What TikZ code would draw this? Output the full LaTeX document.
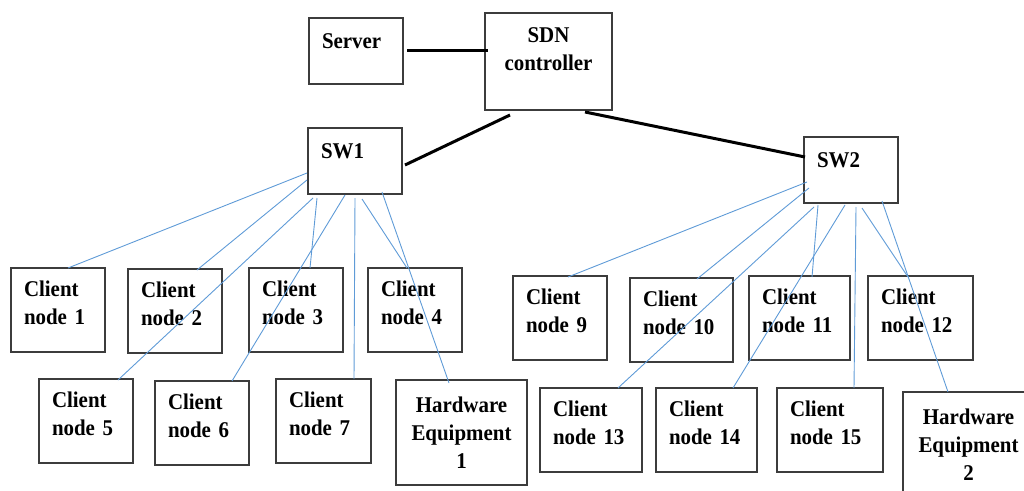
\documentclass[tikz,border=0pt]{standalone}
\usepackage{fontspec}
\setmainfont{Liberation Serif}[FakeStretch=0.93]
\usepackage{tikz}
\usetikzlibrary{calc}
\definecolor{ink}{RGB}{60,60,60}
\definecolor{wire}{RGB}{95,155,215}
\tikzset{
  hostbox/.style={draw=ink,line width=1.2pt,outer sep=0pt,inner xsep=13pt,
    font=\fontsize{22.5}{28}\selectfont\bfseries,align=left},
  client/.style={hostbox,anchor=north west,text width=#1,minimum height=84pt,
    text depth=42pt},
  client/.default=68pt,
  swbox/.style={hostbox,anchor=north west,text width=68pt,minimum height=66pt,
    text depth=20pt},
  hwbox/.style={hostbox,anchor=north west,inner xsep=0pt,text width=131pt,
    minimum height=105pt,align=center},
  uplink/.style={line width=3pt,black},
  link/.style={line width=0.9pt,wire},
}

\begin{document}
\begin{tikzpicture}[x=1pt,y=-1pt]
  \clip (0,0) rectangle (1024,490);
  % core
  \node[swbox] (server) at (309,18) {Server};
  \node[hostbox,anchor=north west,inner xsep=0pt,text width=127pt,
    minimum height=97pt,align=center,text depth=53pt] (sdn) at (485,13) {SDN\\controller};
  \node[swbox] (sw1) at (308,128) {SW1};
  \node[swbox] (sw2) at (804,137) {SW2};
  \draw[uplink] ([shift={(98,32)}]server.north west) -- ([shift={(3,37)}]sdn.north west);
  \draw[uplink] ([shift={(25,5)}]sdn.south west) -- ([shift={(3,37)}]sw1.north east);
  \draw[uplink] ([shift={(100,2)}]sdn.south west) -- ([shift={(1,20)}]sw2.north west);
  % clients of SW1
  \node[client] (cn1) at (11,268) {Client\\node 1};
  \node[client] (cn2) at (128,269) {Client\\node 2};
  \node[client] (cn3) at (249,268) {Client\\node 3};
  \node[client] (cn4) at (368,268) {Client\\node 4};
  \node[client] (cn5) at (39,379) {Client\\node 5};
  \node[client] (cn6) at (155,381) {Client\\node 6};
  \node[client=69pt] (cn7) at (276,379) {Client\\node 7};
  \node[hwbox] (hw1) at (396,380) {Hardware\\Equipment\\1};
  \draw[link] ([shift={(-1,45)}]sw1.north west) -- ([shift={(57,0)}]cn1.north west);
  \draw[link] ([shift={(-1,52)}]sw1.north west) -- ([shift={(69,1)}]cn2.north west);
  \draw[link] ([shift={(5,70)}]sw1.north west) -- ([shift={(79,1)}]cn5.north west);
  \draw[link] ([shift={(9,70)}]sw1.north west) -- ([shift={(61,0)}]cn3.north west);
  \draw[link] ([shift={(37,67)}]sw1.north west) -- ([shift={(77,0)}]cn6.north west);
  \draw[link] ([shift={(47,70)}]sw1.north west) -- ([shift={(78,0)}]cn7.north west);
  \draw[link] ([shift={(54,71)}]sw1.north west) -- ([shift={(39,0)}]cn4.north west);
  \draw[link] ([shift={(74,64)}]sw1.north west) -- ([shift={(53,3)}]hw1.north west);
  % clients of SW2
  \node[client] (cn9) at (513,276) {Client\\node 9};
  \node[client=77pt] (cn10) at (630,278) {Client\\node 10};
  \node[client=75pt] (cn11) at (749,276) {Client\\node 11};
  \node[client=79pt] (cn12) at (868,276) {Client\\node 12};
  \node[client=76pt] (cn13) at (540,388) {Client\\node 13};
  \node[client=75pt] (cn14) at (656,388) {Client\\node 14};
  \node[client=80pt] (cn15) at (777,388) {Client\\node 15};
  \node[hwbox] (hw2) at (903,392) {Hardware\\Equipment\\2};
  \draw[link] ([shift={(3,45)}]sw2.north west) -- ([shift={(55,1)}]cn9.north west);
  \draw[link] ([shift={(5,51)}]sw2.north west) -- ([shift={(67,1)}]cn10.north west);
  \draw[link] ([shift={(10,70)}]sw2.north west) -- ([shift={(78,0)}]cn13.north west);
  \draw[link] ([shift={(14,68)}]sw2.north west) -- ([shift={(63,1)}]cn11.north west);
  \draw[link] ([shift={(41,68)}]sw2.north west) -- ([shift={(77,0)}]cn14.north west);
  \draw[link] ([shift={(52,70)}]sw2.north west) -- ([shift={(77,0)}]cn15.north west);
  \draw[link] ([shift={(58,71)}]sw2.north west) -- ([shift={(40,1)}]cn12.north west);
  \draw[link] ([shift={(78,64)}]sw2.north west) -- ([shift={(45,0)}]hw2.north west);
\end{tikzpicture}
\end{document}
